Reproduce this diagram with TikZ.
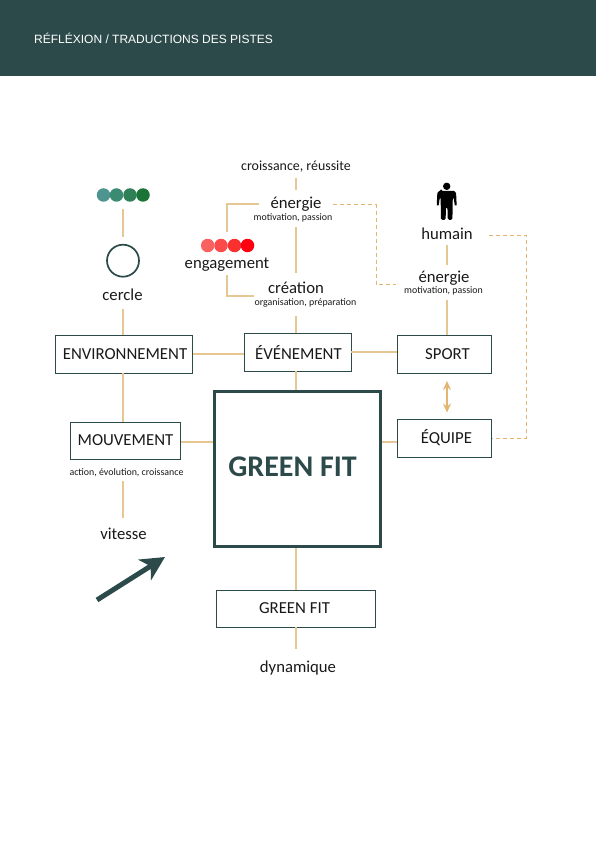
\documentclass[tikz,border=0pt]{standalone}
\usepackage{fontspec}
\setmainfont{Carlito}
\newfontfamily\headfont{Liberation Sans}
\usetikzlibrary{arrows.meta,calc}
\definecolor{dark}{HTML}{2D4A4A}
\definecolor{tan}{HTML}{E6C794}
\definecolor{dashtan}{HTML}{E2B573}
\tikzset{
  lbl/.style={inner sep=0pt,text height=12pt,text depth=3.7pt,font=\fontsize{16.7}{19}\selectfont,text=black!90},
  sublbl/.style={inner sep=0pt,text height=7pt,text depth=2.2pt,font=\fontsize{9.9}{11}\selectfont,text=black!90},
  box/.style={draw=dark,line width=.9pt,fill=white,inner sep=0pt,font=\fontsize{16.8}{19}\selectfont,text=black!90},
  link/.style={draw=tan,line width=1.4pt},
  dlink/.style={draw=dashtan,line width=1pt,dash pattern=on 4pt off 3pt},
  dotn/.style={circle,inner sep=0pt,minimum size=13.5pt}
}
\begin{document}
\begin{tikzpicture}[x=1pt,y=-1pt]
\useasboundingbox (0,0) rectangle (596,842);
\fill[white] (0,0) rectangle (596,842);
\node[fill=dark,minimum width=596pt,minimum height=76pt,inner sep=0pt,outer sep=0pt,anchor=north west] (band) at (0,0) {};
\node[anchor=west,inner sep=0pt,text=white,font=\headfont\fontsize{12}{14}\selectfont] (title) at (34,38.5) {RÉFLÉXION / TRADUCTIONS DES PISTES};

% boxes
\node[box,minimum width=137pt,minimum height=38pt] (env) at (124,354) {\hspace*{2pt}ENVIRONNEMENT};
\node[box,minimum width=107pt,minimum height=38pt] (evt) at (297.5,352) {\hspace*{2pt}ÉVÉNEMENT};
\node[box,minimum width=94pt,minimum height=38pt] (sport) at (444.5,354) {\hspace*{6pt}SPORT};
\node[box,minimum width=94pt,minimum height=38pt] (equipe) at (444.5,438) {\hspace*{4pt}ÉQUIPE};
\node[box,minimum width=110pt,minimum height=37pt] (mouv) at (125.5,440.5) {MOUVEMENT};
\node[draw=dark,line width=3pt,fill=white,inner sep=0pt,minimum width=166pt,minimum height=155pt] (big) at (297,469) {};
\node[inner sep=0pt,text=dark,font=\bfseries\fontsize{30}{33}\selectfont] (bigt) at (292.5,467) {GREEN FIT};
\node[box,minimum width=159pt,minimum height=37pt] (small) at (296,608.5) {GREEN FIT\hspace*{3pt}};

% labels
\node[lbl,font=\fontsize{13.9}{16}\selectfont] (crois) at (296,166) {croissance, réussite};
\node[lbl] (energie) at (296,204) {énergie};
\node[sublbl] (esub) at (293,218) {motivation, passion};
\node[lbl] (engage) at (227,264) {engagement};
\node[lbl] (creation) at (296,289) {création};
\node[sublbl] (csub) at (305.5,303) {organisation, préparation};
\node[lbl] (humain) at (447,235) {humain};
\node[lbl] (enS) at (444,278) {énergie};
\node[sublbl] (enSsub) at (443.5,291) {motivation, passion};
\node[lbl] (cercle) at (122.5,296) {cercle};
\node[sublbl] (msub) at (126.5,473) {action, évolution, croissance};
\node[lbl] (vitesse) at (123.5,535) {vitesse};
\node[lbl] (dyn) at (298,668) {dynamique};

% dots
\node[dotn,fill={rgb,255:red,78;green,148;blue,144}] (g1) at (103.5,195) {};
\node[dotn,fill={rgb,255:red,59;green,138;blue,114}] (g2) at (116.5,195) {};
\node[dotn,fill={rgb,255:red,47;green,127;blue,87}] (g3) at (130,195) {};
\node[dotn,fill={rgb,255:red,26;green,116;blue,54}] (g4) at (143,195) {};
\node[dotn,fill={rgb,255:red,249;green,96;blue,96}] (r1) at (207.7,245.5) {};
\node[dotn,fill={rgb,255:red,250;green,74;blue,74}] (r2) at (221,245.5) {};
\node[dotn,fill={rgb,255:red,249;green,48;blue,48}] (r3) at (234.5,245.5) {};
\node[dotn,fill={rgb,255:red,255;green,0;blue,16}] (r4) at (247.5,245.5) {};
\node[circle,draw=dark,line width=1.7pt,inner sep=0pt,minimum size=32pt] (ring) at (123,260.7) {};

% person
\fill[black] (446.7,186.3) circle (3.7);
\fill[black,rounded corners=1.5pt] (441,191) -- (452.5,191) .. controls (455,191) and (456,193) .. (456.2,195) -- (456.6,204) .. controls (456.6,205.5) and (454.8,205.5) .. (454.6,204) -- (453.4,197) -- (452.8,197) -- (452.4,220) -- (447.8,220) -- (447.4,207) -- (446,207) -- (445.6,220) -- (441,220) -- (440.6,197) -- (440,197) -- (438.8,204) .. controls (438.6,205.5) and (436.8,205.5) .. (436.8,204) -- (437.2,195) .. controls (437.4,193) and (438.5,191) .. (441,191) -- cycle;

% connectors
\draw[link,shorten <=4pt,shorten >=6pt] (crois.south) -- (energie.north);
\draw[link,shorten <=15.1pt,shorten >=8pt] (energie.south) -- (creation.north);
\draw[link,shorten <=19pt] (creation.south) -- (creation.south |- evt.north);
\draw[link] (creation.south |- evt.south) -- (creation.south |- big.north);
\draw[link,shorten <=11pt,shorten >=24pt] (energie.west) -| (engage.north);
\coordinate (cend) at (254,296);
\draw[link,shorten <=3pt] (engage.south) |- (cend);
\draw[link,shorten <=7pt,shorten >=7pt] (g3.south -| ring.north) -- (ring.north);
\draw[link,shorten <=5pt] (cercle.south -| ring.north) -- (env.north -| ring.north);
\draw[link] (env.south -| ring.north) -- (mouv.north -| ring.north);
\draw[link,shorten <=3.4pt,shorten >=9pt] (msub.south -| ring.north) -- (vitesse.north -| ring.north);
\draw[link] (env.east) -- (evt.west |- env.east);
\draw[link] (evt.east) -- (sport.west |- evt.east);
\draw[link] ($(mouv.east)+(0,1.5)$) -- ($(mouv.east -| big.west)+(0,1.5)$);
\draw[link] ($(equipe.east -| big.east)+(0,4)$) -- ($(equipe.west)+(0,4)$);
\draw[link] (big.south -| small.north) -- (small.north);
\draw[link,shorten >=11pt] (small.south) -- (small.south |- dyn.north);
\draw[link,shorten <=2pt,shorten >=5pt] (humain.south) -- (humain.south |- enS.north);
\draw[link,shorten <=4.4pt] (enSsub.south -| humain.south) -- (sport.north -| humain.south);
\draw[draw=dashtan,line width=1.2pt,{Stealth[length=9pt,width=8pt]}-{Stealth[length=9pt,width=8pt]},shorten <=7.5pt,shorten >=6pt] (sport.south -| humain.south) -- (equipe.north -| humain.south);
\coordinate (d1) at (376,205);
\coordinate (d2) at (376,284.5);
\draw[dlink,shorten <=11pt,shorten >=22pt] (energie.east |- d1) -- (d1) -- (d2) -- (enS.west |- d2);
\coordinate (h1) at (526,235);
\coordinate (h2) at (526,438);
\draw[dlink,shorten <=16pt] (humain.east) -- (h1) -- (h2) -- (equipe.east);
\coordinate (a1) at (97,600);
\coordinate (a2) at (165,557);
\draw[dark,line width=5pt,-{Stealth[length=24pt,width=24pt,inset=7pt]}] (a1) -- (a2);
\end{tikzpicture}
\end{document}
